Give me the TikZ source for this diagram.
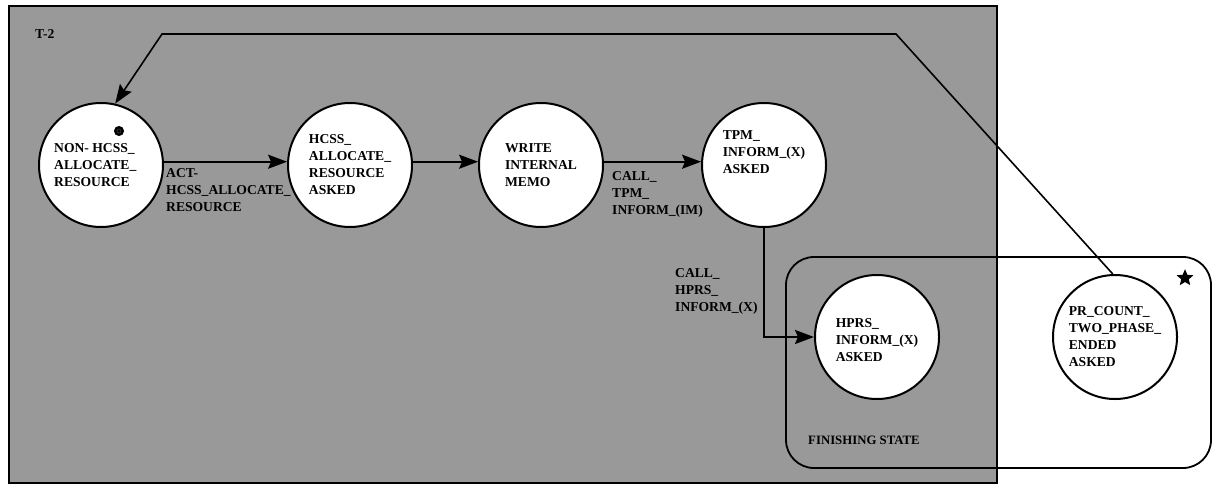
\documentclass[tikz,border=0pt]{standalone}
\usepackage{fontspec}
\setmainfont{Liberation Serif}
\usepackage{xcolor}
\usetikzlibrary{positioning,arrows.meta,shapes.geometric}
\definecolor{panelgray}{HTML}{999999}

\begin{document}
\begin{tikzpicture}[
  x=1pt, y=-1pt,
  font=\fontsize{13.6}{17}\selectfont\bfseries,
  state/.style={draw, circle, fill=white, line width=2pt, minimum size=124pt,
                inner sep=0pt, align=left},
  lbl/.style={anchor=north west, inner sep=0pt, align=left},
  trans/.style={-{Stealth[length=19pt,width=14pt,inset=3pt]}, line width=2pt},
  back/.style={-{Stealth[length=19pt,width=14pt,inset=3pt]}, line width=1.6pt},
]
\useasboundingbox (0,0) rectangle (1214,485);

% panel T-2
\draw[fill=panelgray, line width=2pt] (9,6) rectangle (997,483);
\node[lbl] (title) at (35,29) {T-2};

% finishing state
\draw[line width=1.8pt, rounded corners=28pt] (786,257) rectangle (1211,468);
\node[lbl, font=\fontsize{12.8}{16}\selectfont\bfseries] (finlbl) at (808,436)
  {FINISHING STATE};
\node[star, star points=5, star point ratio=2.2, fill=black, draw,
      line width=1pt, minimum size=15pt, inner sep=0pt] (fin) at (1185,278) {};

% states
\node[state] (nonhcss) at (101,165)
  {NON- HCSS\_\\ALLOCATE\_\\RESOURCE\hspace*{18pt}};
\node[state] (hcss) at (350,165)
  {HCSS\_\\ALLOCATE\_\\RESOURCE\\ASKED};
\node[state] (memo) at (541,165) {WRITE\\INTERNAL\\MEMO};
\node[state] (tpm) at (764,165) {TPM\_\\INFORM\_(X)\\ASKED\\[8pt]};
\node[state] (hprs) at (877,337) {\\[-2pt]HPRS\_\\INFORM\_(X)\\ASKED};
\node[state] (prcount) at (1115,337)
  {PR\_COUNT\_\\TWO\_PHASE\_\\ENDED\\ASKED};
\node[circle, fill=black, draw, line width=1pt, minimum size=9pt,
      inner sep=0pt] (init) at (119,131) {};
\draw[panelgray!40!black, line width=0.6pt] (init) circle (2pt);

% transitions
\draw[trans] (nonhcss.3) -- (hcss.177);
\node[lbl] (actlbl) at (166,168) {ACT-\\HCSS\_ALLOCATE\_\\RESOURCE};
\draw[trans] (hcss.3) -- (memo.177);
\draw[trans] (memo.3) -- (tpm.177);
\node[lbl] (tpmlbl) at (612,171) {CALL\_\\TPM\_\\INFORM\_(IM)};
\draw[trans] (tpm.south) |- (hprs.west);
\node[lbl] (hprslbl) at (675,268) {CALL\_\\HPRS\_\\INFORM\_(X)};

% back to start
\coordinate (backR) at (896,34);
\coordinate (backL) at (162,34);
\draw[back] (prcount.92) -- (backR) -- (backL) -- (nonhcss.77);
\end{tikzpicture}
\end{document}
